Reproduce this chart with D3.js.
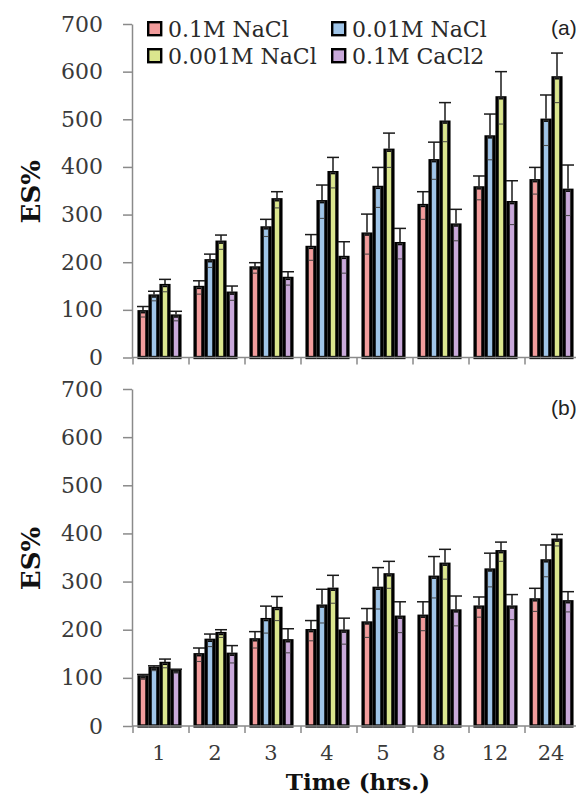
<!DOCTYPE html>
<html><head><meta charset="utf-8">
<script src="https://cdn.jsdelivr.net/npm/d3@7"></script>
<style>html,body{margin:0;padding:0;background:#fff;overflow:hidden}</style>
</head><body>
<svg id="chart" width="576" height="799"></svg>
<script>
const times = ["1","2","3","4","5","8","12","24"];
const seriesNames = ["0.1M NaCl","0.01M NaCl","0.001M NaCl","0.1M CaCl2"];
const seriesColors = ["#f29c9c","#a0c5e8","#dbe68e","#c9a9da"];
const yTicks = [0,100,200,300,400,500,600,700];

// Panel (a)
const a_nacl01 = [96,147,188,231,259,319,356,371];
const a_nacl001 = [129,203,272,327,357,413,463,498];
const a_nacl0001 = [151,242,331,388,435,494,545,587];
const a_cacl2 = [87,135,166,210,239,278,325,351];
const a_err_nacl01 = [11,14,11,27,42,29,25,28];
const a_err_nacl001 = [10,14,18,35,42,39,48,53];
const a_err_nacl0001 = [13,15,17,32,36,41,55,52];
const a_err_cacl2 = [10,15,14,33,32,33,46,53];

// Panel (b)
const b_nacl01 = [102,148,179,198,214,228,247,262];
const b_nacl001 = [120,178,221,249,286,309,324,343];
const b_nacl0001 = [130,192,244,284,314,336,362,386];
const b_cacl2 = [114,149,177,197,226,239,247,258];
const b_err_nacl01 = [5,14,17,21,30,30,21,24];
const b_err_nacl001 = [5,13,28,35,43,43,35,33];
const b_err_nacl0001 = [9,8,25,29,28,31,20,12];
const b_err_cacl2 = [4,18,25,27,32,31,26,21];

const svg = d3.select("#chart");
const serif = "'DejaVu Serif', serif";

const x = d3.scaleBand().domain(times).range([133, 133 + 8*56]).padding(0);
const groupW = 44, groupOff = 4.5;
const x1 = d3.scaleBand().domain(seriesNames).range([0, groupW]).padding(0);

function panel(vals, errs, yRange, label, labelY, showXLabels) {
  const y = d3.scaleLinear().domain([0,700]).range(yRange);
  const g = svg.append("g");
  // y axis
  const ya = g.append("g").attr("transform","translate(132,0)")
    .call(d3.axisLeft(y).tickValues(yTicks).tickSize(9).tickPadding(20).tickSizeOuter(0));
  ya.select(".domain").attr("stroke","#8a8a8a").attr("stroke-width",1.5);
  ya.selectAll(".tick line").attr("stroke","#8a8a8a").attr("stroke-width",1.5);
  ya.selectAll(".tick text").attr("font-family",serif).attr("font-size",22).attr("fill","#3a3a3a");

  // bars
  const data = [];
  times.forEach((t,i) => seriesNames.forEach((s,j) => data.push({t, s, j, v: vals[j][i], e: errs[j][i]})));
  const bx = d => x(d.t) + groupOff + x1(d.s);
  const bw = x1.bandwidth();
  g.selectAll("rect.bar").data(data).join("rect").attr("class","bar")
    .attr("x", d => bx(d) + 1.6).attr("width", bw - 3.2)
    .attr("y", d => y(d.v)).attr("height", d => y(0) - y(d.v))
    .attr("fill", d => seriesColors[d.j]).attr("stroke","#000").attr("stroke-width",3.3);
  // inner lower error (box)
  g.selectAll("rect.lerr").data(data).join("rect").attr("class","lerr")
    .attr("x", d => bx(d) + bw/2 - 2.5).attr("width", 5)
    .attr("y", d => y(d.v)).attr("height", d => y(d.v - d.e) - y(d.v))
    .attr("fill","none").attr("stroke","#3a3a3a").attr("stroke-width",1.1).attr("opacity",0.85);
  // upper error
  g.selectAll("line.uerr").data(data).join("line").attr("class","uerr")
    .attr("x1", d => bx(d) + bw/2).attr("x2", d => bx(d) + bw/2)
    .attr("y1", d => y(d.v) - 1.5).attr("y2", d => y(d.v + d.e))
    .attr("stroke","#1a1a1a").attr("stroke-width",1.5);
  g.selectAll("line.ucap").data(data).join("line").attr("class","ucap")
    .attr("x1", d => bx(d) + bw/2 - 6).attr("x2", d => bx(d) + bw/2 + 6)
    .attr("y1", d => y(d.v + d.e)).attr("y2", d => y(d.v + d.e))
    .attr("stroke","#1a1a1a").attr("stroke-width",1.5);

  // x axis line + boundary ticks
  const y0 = y(0);
  g.append("line").attr("x1",132).attr("x2",590).attr("y1",y0).attr("y2",y0)
    .attr("stroke","#8a8a8a").attr("stroke-width",1.5);
  g.selectAll("line.xt").data(times).join("line").attr("class","xt")
    .attr("x1", d => x(d)).attr("x2", d => x(d)).attr("y1", y0).attr("y2", y0 + 7)
    .attr("stroke","#8a8a8a").attr("stroke-width",1.5);
  if (showXLabels) {
    g.selectAll("text.xl").data(times).join("text").attr("class","xl")
      .attr("x", d => x(d) + x.bandwidth()/2 - 2).attr("y", y0 + 34)
      .attr("text-anchor","middle").attr("font-family",serif).attr("font-size",21).attr("fill","#3a3a3a")
      .text(d => d);
  }
  // y title
  const ym = (yRange[0] + yRange[1]) / 2 + 1;
  g.append("text").attr("transform", `translate(40,${ym}) rotate(-90)`)
    .attr("text-anchor","middle").attr("font-family",serif).attr("font-weight","bold")
    .attr("font-size",26).attr("fill","#111").text("ES%");
  // panel label
  g.append("text").attr("x",551).attr("y", labelY).attr("font-family","'Liberation Sans', Arial, sans-serif")
    .attr("font-size",21).attr("fill","#222").text(label);
}

panel([a_nacl01,a_nacl001,a_nacl0001,a_cacl2],[a_err_nacl01,a_err_nacl001,a_err_nacl0001,a_err_cacl2],[357.5,24],"(a)",35,false);
panel([b_nacl01,b_nacl001,b_nacl0001,b_cacl2],[b_err_nacl01,b_err_nacl001,b_err_nacl0001,b_err_cacl2],[726,389],"(b)",415,true);

// x title
svg.append("text").attr("x",358).attr("y",790).attr("text-anchor","middle")
  .attr("font-family",serif).attr("font-weight","bold").attr("font-size",23).attr("fill","#111")
  .text("Time (hrs.)");

// legend
const legPos = [[147,21],[331,21],[147,48],[331,48]];
const leg = svg.append("g");
seriesNames.forEach((s,i) => {
  const [lx,ly] = legPos[i];
  leg.append("rect").attr("x",lx+1.2).attr("y",ly+1.2).attr("width",13).attr("height",13)
    .attr("fill",seriesColors[i]).attr("stroke","#000").attr("stroke-width",2.4);
  leg.append("text").attr("x",lx+21).attr("y",ly+15.5).attr("font-family",serif)
    .attr("font-size",22).attr("fill","#2a2a2a").text(s);
});
</script>
</body></html>
